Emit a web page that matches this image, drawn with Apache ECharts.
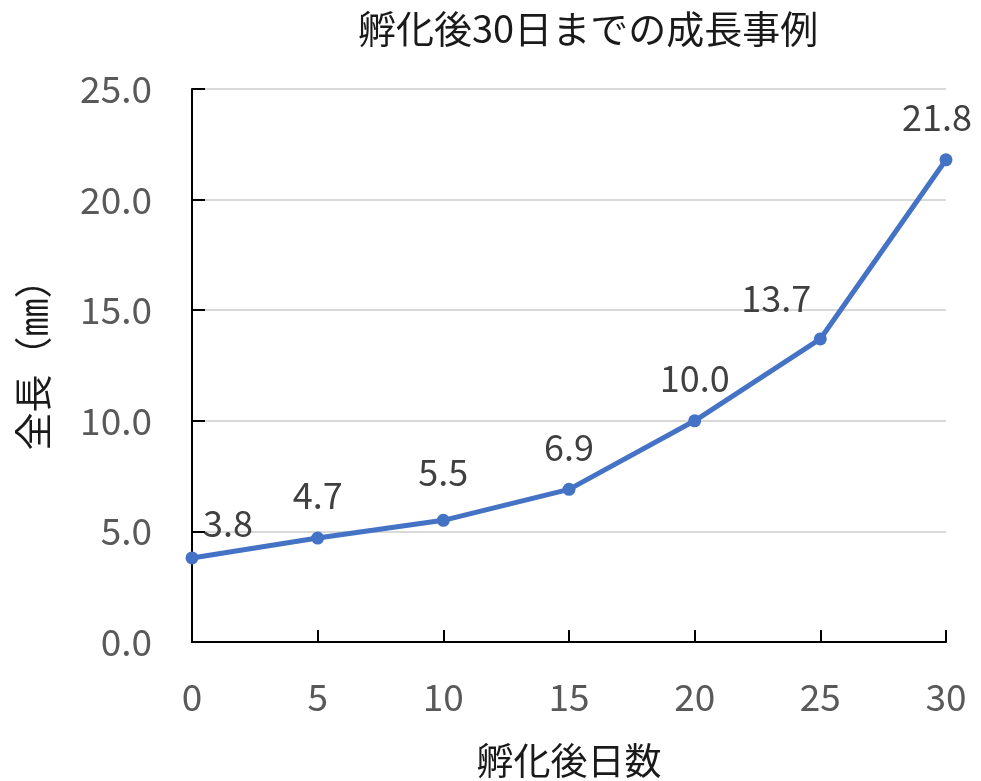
<!DOCTYPE html>
<html>
<head>
<meta charset="utf-8">
<script src="https://cdn.jsdelivr.net/npm/echarts@6/dist/echarts.min.js"></script>
<style>
	html, body { margin: 0; padding: 0; background: #fff; }
	#chart { width: 981px; height: 781px; }
</style>
</head>
<body>
<div id="chart"></div>
<script>
// 孵化後日数
var days = [0, 5, 10, 15, 20, 25, 30];
// 全長（㎜）
var lengths = [3.8, 4.7, 5.5, 6.9, 10.0, 13.7, 21.8];
// ラベル位置の微調整
var labelOffsets = [[36, 10], [0, 2], [0, -4], [0, 2], [0, 2], [-44, 4], [-9, 2]];

var font = '"Noto Sans CJK JP", "Noto Sans", sans-serif';

var seriesData = days.map(function (d, i) {
	return {
		value: [d, lengths[i]],
		label: { offset: labelOffsets[i] }
	};
});

var myChart = echarts.init(document.getElementById('chart'));
var option = {
	animation: false,
	title: {
		text: '孵化後30日までの成長事例',
		left: 353,
		top: 5,
		textStyle: { fontFamily: font, fontSize: 38, fontWeight: 'normal', color: '#1a1a1a' }
	},
	grid: {
		left: 192,
		right: 35,
		top: 89,
		bottom: 139,
		outerBoundsMode: 'none',
		containLabel: false
	},
	xAxis: {
		type: 'value',
		min: 0,
		max: 30,
		interval: 5,
		name: '孵化後日数',
		nameLocation: 'middle',
		nameGap: 100,
		nameTextStyle: { fontFamily: font, fontSize: 37, color: '#1a1a1a' },
		axisLine: { lineStyle: { color: '#000', width: 2 } },
		axisTick: { show: true, inside: true, length: 12, lineStyle: { color: '#000', width: 2 } },
		axisLabel: { fontFamily: font, fontSize: 37, color: '#595959', margin: 36 },
		splitLine: { show: false }
	},
	yAxis: {
		type: 'value',
		min: 0,
		max: 25,
		interval: 5,
		name: '全長（㎜）',
		nameLocation: 'middle',
		nameRotate: 90,
		nameGap: 140,
		nameTextStyle: { fontFamily: font, fontSize: 38, color: '#1a1a1a', padding: [0, 0, 0, 20] },
		axisLine: { show: true, lineStyle: { color: '#000', width: 2 } },
		axisTick: { show: true, inside: true, length: 13, lineStyle: { color: '#000', width: 2 } },
		axisLabel: {
			fontFamily: font, fontSize: 37, color: '#595959', margin: 40,
			formatter: function (v) { return v.toFixed(1); }
		},
		splitLine: { show: true, lineStyle: { color: '#d9d9d9', width: 2 } }
	},
	series: [{
		type: 'line',
		data: seriesData,
		symbol: 'circle',
		symbolSize: 13,
		lineStyle: { color: '#4472C4', width: 5 },
		itemStyle: { color: '#4472C4' },
		label: {
			show: true,
			position: 'top',
			distance: 20,
			fontFamily: font,
			fontSize: 36,
			color: '#404040',
			formatter: function (p) { return p.value[1].toFixed(1); }
		}
	}]
};
myChart.setOption(option);
window.addEventListener('resize', function () {
	myChart.resize();
});
</script>
</body>
</html>
